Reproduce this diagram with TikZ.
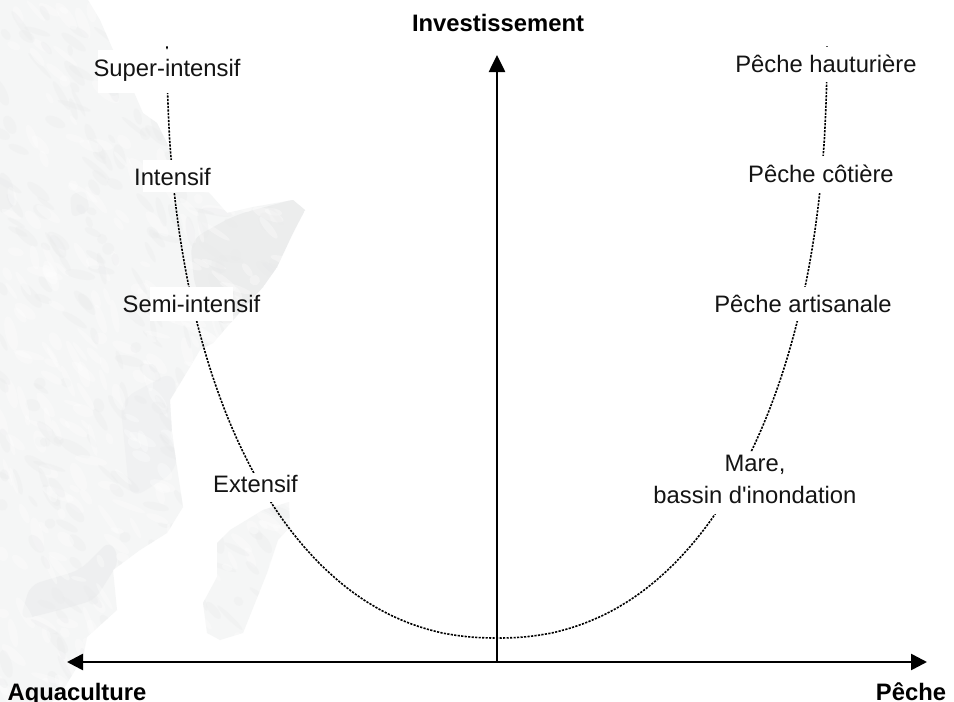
\documentclass[tikz,border=0pt]{standalone}
\usepackage{fontspec}
\setmainfont{Liberation Sans}
\usetikzlibrary{arrows.meta}
\definecolor{landbase}{HTML}{F5F6F6}
\definecolor{landdark}{HTML}{E9EAEB}
\tikzset{
  axis/.style={line width=2.6pt,black,{Triangle[length=17pt,width=16pt]}-},
  axisb/.style={line width=2.6pt,black,{Triangle[length=16pt,width=16pt]}-{Triangle[length=16pt,width=16pt]}},
  dotted curve/.style={line width=1.6pt,black,dash pattern=on 2.2pt off 1.3pt},
  lbl/.style={font=\fontsize{23.8}{32}\selectfont,text=black!92,inner sep=0pt,align=center},
  title/.style={font=\fontsize{23.8}{28}\selectfont\bfseries,text=black,inner sep=0pt,anchor=base},
  whitebox/.style={fill=white,draw=none,inner sep=0pt},
  land/.style={fill=landbase,draw=none},
}
\begin{document}
\begin{tikzpicture}[x=1pt,y=-1pt]
\useasboundingbox (0,0) rectangle (954,702);
\fill[white] (0,0) rectangle (954,702);
% map
\def\coastA{(0,0) -- (88,0) -- (100,20) -- (110,43) -- (122,70) -- (133,90) -- (143,113) -- (157,123) -- (167,143) -- (173,160) -- (195,178) -- (213,197) -- (227,213) -- (253,207) -- (293,200) -- (305,210) -- (293,233) -- (277,267) -- (263,287) -- (233,320) -- (213,343) -- (200,350) -- (190,367) -- (170,400) -- (172,433) -- (177,467) -- (183,507) -- (167,533) -- (140,550) -- (113,570) -- (117,610) -- (87,637) -- (83,657) -- (63,690) -- (52,702) -- (0,702) -- cycle}
\def\coastB{(263,510) -- (289,502) -- (290,527) -- (278,540) -- (267,573) -- (243,633) -- (220,640) -- (207,633) -- (203,603) -- (217,577) -- (217,543) -- (230,530) -- cycle}
\fill[land] \coastA;
\fill[land] \coastB;
\begin{scope}
  \clip \coastA \coastB;
  \fill[landdark,opacity=.75,rounded corners=14pt] (190,240) -- (235,215) -- (310,195) -- (295,240) -- (262,290) -- (225,330) -- (195,290) -- cycle;
  \fill[landdark,opacity=.5,rounded corners=10pt] (30,585) -- (80,570) -- (110,540) -- (120,560) -- (95,600) -- (60,610) -- (20,620) -- cycle;
  \fill[landdark,opacity=.35,rounded corners=16pt] (120,400) -- (175,370) -- (178,470) -- (130,500) -- cycle;
  \fill[landdark,opacity=.4,rounded corners=6pt] (0,170) -- (12,180) -- (15,205) -- (0,215) -- cycle;
  \fill[landdark,opacity=.4,rounded corners=6pt] (70,195) -- (85,190) -- (90,210) -- (72,218) -- cycle;
  \pgfmathsetseed{7}
  \foreach \i in {1,...,700}{
    \pgfmathsetmacro{\px}{rnd*300}
    \pgfmathsetmacro{\py}{rnd*702}
    \pgfmathsetmacro{\ra}{5+rnd*13}
    \pgfmathsetmacro{\rb}{2+rnd*4}
    \pgfmathsetmacro{\ang}{-80+rnd*70}
    \pgfmathsetmacro{\tone}{rnd>0.5?1:0}
    \ifdim\tone pt>0.5pt
      \fill[white,opacity=.32,rotate around={\ang:(\px,\py)}] (\px,\py) ellipse ({\ra} and {\rb});
    \else
      \fill[landdark,opacity=.3,rotate around={\ang:(\px,\py)}] (\px,\py) ellipse ({\ra} and {\rb});
    \fi
  }
\end{scope}
% curve
\draw[dotted curve] plot[domain=0.2:179.8,samples=200,variable=\t]
  ({497-330*(cos(\t)>0?1:-1)*pow(abs(cos(\t)),0.909)},{43+595*pow(sin(\t),0.909)});
% white boxes behind labels
\node[whitebox,minimum width=135pt,minimum height=43pt] (b1) at (165.5,71.5) {};
\node[whitebox,minimum width=73pt,minimum height=32pt] (b2) at (179.5,176) {};
\node[whitebox,minimum width=83pt,minimum height=34pt] (b3) at (191.5,304) {};
\node[whitebox,minimum width=86pt,minimum height=29pt] (b4) at (256,487.5) {};
\node[whitebox,minimum width=182pt,minimum height=35pt] (b5) at (826,64.5) {};
\node[whitebox,minimum width=150pt,minimum height=37pt] (b6) at (821,174.5) {};
\node[whitebox,minimum width=176pt,minimum height=34pt] (b7) at (803,304) {};
\node[whitebox,minimum width=190pt,minimum height=62pt] (b8) at (755,483) {};
% labels
\node[lbl] (l1) at (167,70) {Super-intensif};
\node[lbl] (l2) at (172.5,177) {Intensif};
\node[lbl] (l3) at (191.5,304) {Semi-intensif};
\node[lbl] (l4) at (255.5,484) {Extensif};
\node[lbl] (r1) at (826,64) {Pêche hauturière};
\node[lbl] (r2) at (821,174) {Pêche côtière};
\node[lbl] (r3) at (803,304) {Pêche artisanale};
\node[lbl] (r4) at (755,479) {Mare,\\bassin d\textquotesingle inondation};
% axes
\coordinate (o) at (497,662);
\coordinate (up) at (497,55);
\coordinate (lf) at (67,662);
\coordinate (rt) at (927,662);
\draw[axisb] (lf) -- (rt);
\draw[axis] (up) -- (o);
\node[title] (tt) at (498,31) {Investissement};
\node[title] (ta) at (77,700) {Aquaculture};
\node[title] (tp) at (911,700) {Pêche};
\end{tikzpicture}
\end{document}
